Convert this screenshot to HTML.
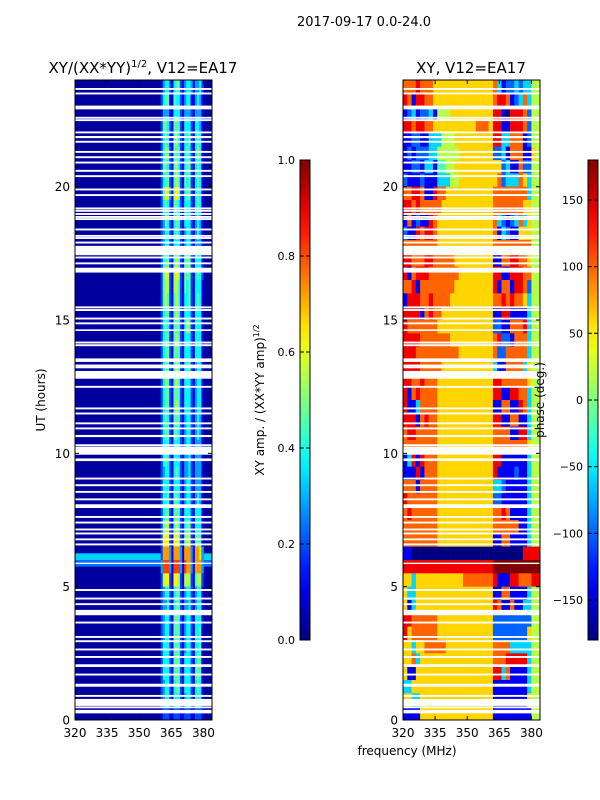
<!DOCTYPE html>
<html><head><meta charset="utf-8"><style>
html,body{margin:0;padding:0;background:#fff;}
svg{display:block;font-family:"DejaVu Sans","Liberation Sans",sans-serif;}
</style></head><body>
<svg id="fig" width="600" height="800" viewBox="0 0 600 800" xmlns="http://www.w3.org/2000/svg">
<text x="364" y="26" font-size="13" text-anchor="middle">2017-09-17 0.0-24.0</text>
<text x="143" y="73" font-size="15" text-anchor="middle">XY/(XX*YY)<tspan font-size="10" dy="-6">1/2</tspan><tspan dy="6">, V12=EA17</tspan></text>
<text x="471" y="73" font-size="15" text-anchor="middle">XY, V12=EA17</text>
<g id="ampHeat"></g>
<g id="phaseHeat"></g>
<g id="axes"></g>
<text x="45" y="400" font-size="12" text-anchor="middle" transform="rotate(-90 45 400)">UT (hours)</text>
<text x="407" y="755" font-size="12" text-anchor="middle">frequency (MHz)</text>
<text x="264" y="400" font-size="12" text-anchor="middle" transform="rotate(-90 264 400)">XY amp. / (XX*YY amp)<tspan font-size="8" dy="-5">1/2</tspan></text>
<text x="544" y="400" font-size="12" text-anchor="middle" transform="rotate(-90 544 400)">phase (deg.)</text>
<g id="cbars"></g>
</svg>
<script>
// ---- data ----
const hourTicks = [0, 5, 10, 15, 20];
const freqTicks = [320, 335, 350, 365, 380];
const ampTicks = [0.0, 0.2, 0.4, 0.6, 0.8, 1.0];
const phaseTicks = [-150, -100, -50, 0, 50, 100, 150];
// amplitude of band 360-380 MHz, 1 MHz channels, rows of 0.5 h, top row = 23.5-24 h
const ampBand = [
"1 3442 1 4552 1 3443 1 3342","2 4551 1 5442 1 3441 1 3431","1 3331 1 4442 1 3332 1 3331","2 5542 1 5552 1 4442 1 4431",
"2 4541 1 5642 1 4452 1 4541","2 4652 1 5552 1 4542 1 4641","2 5542 1 5642 1 4552 1 4541","2 4552 1 5652 1 5452 1 4541",
"2 5763 1 6762 1 4552 1 4541","2 4542 1 5542 1 4442 1 4541","2 3542 1 4552 1 4442 1 3431","2 3442 1 4542 1 3442 1 3431",
"2 3442 1 4442 1 3442 1 3331","2 4552 1 5652 1 5552 1 4441","2 5762 1 6762 1 5552 1 4542","2 5662 1 6652 1 5452 1 4441",
"2 5652 1 5652 1 4452 1 4541","2 4552 1 5652 1 4442 1 4441","2 4542 1 5552 1 4652 1 4441","2 4552 1 5652 1 4442 1 4441",
"2 4552 1 5552 1 4442 1 4441","2 4552 1 5652 1 4452 1 3441","2 4652 1 5652 1 4442 1 3441","2 4552 1 5552 1 4442 1 3441",
"2 4552 1 5652 1 4442 1 3441","2 4542 1 5552 1 3442 1 3431","2 4552 1 5542 1 3442 1 3431","2 4442 1 4442 1 3442 1 3331",
"2 4542 1 4442 1 3342 1 3331","2 3442 1 4542 1 3342 1 3331","2 4442 1 4442 1 3442 1 3331","2 4452 1 5542 1 3442 1 3431",
"2 4552 1 5552 1 4442 1 4441","2 5662 1 5652 1 4552 1 4441","2 7772 1 7762 1 5662 1 5551","2 8883 1 8883 1 8883 1 8873",
"3 9993 1 9993 1 9883 1 8883","2 6772 1 7762 1 6662 1 5662","2 3442 1 4552 1 3442 1 3441","2 3342 1 4552 1 3342 1 3441",
"2 3442 1 5552 1 3442 1 4441","2 3442 1 5552 1 3442 1 4451","2 4442 1 5552 1 3442 1 4451","2 4442 1 5552 1 4442 1 4551",
"2 4442 1 5552 1 4442 1 5551","2 3442 1 4552 1 4442 1 4541","2 3442 1 4442 1 3442 1 4441","1 2221 1 2221 1 2221 1 2221"];
// background amplitude (320-384 MHz outside band), 0.25 h rows, one group per hour, top = 23-24 h
const ampBg = "0000 0000 0000 0000 0000 0000 0000 0000 0000 0000 0000 0000 0000 0000 0000 0000 0000 0003 2000 0000 0000 0000 0000 0000";
// phase, 2 MHz channels 320-384, 0.5 h rows, top = 23.5-24 h; digit d -> -180 + 40 d deg
const phaseRows = [
"77787776 6666666666666 731223233 55","87188776 6666666666666 788712373 55","12312231 5556666666666 881088872 55","88788776 6666666667776 881188872 55",
"11221133 3555666666666 883377712 55","12122233 5555566666666 223177711 65","11221331 4455666666666 662311722 55","21112111 3335566666666 672333763 55",
"77887118 7766666666666 777777773 55","88787777 7666666666666 777777766 55","17121187 6666666666666 732123736 55","21187887 6666666666666 713211666 55",
"77777777 6666666666666 777777777 55","88777887 7777666666666 117788776 55","81788877 7777766666666 881188877 55","77817777 7777666666666 817718872 55",
"18887787 7776666666666 778787763 55","88881787 7666666666666 118811113 55","87777777 6666666666666 221177783 55","88887777 7776666666666 782217773 55",
"88877777 7777766666666 722777773 55","88887777 7666666666666 311777736 55","88778777 6666666666666 887777776 55","81787777 6666666666666 881188773 55",
"81137777 6666666666666 117711873 55","88817877 6666666666666 881177113 55","78877777 6666666666666 777711883 55","77777777 6666666666666 777777776 55",
"13818777 6666666666666 881111113 55","11181777 6666666666666 811112113 55","77717777 6666666666666 332111113 55","87777777 6666666666666 221111113 55",
"78777777 6666666666666 778711113 55","77777777 6666666666666 777777113 55","77777777 6666666666666 117711113 55","11000000 0000000000000 000000088 88",
"88888888 8888888888888 999999999 99","66366666 6666667777777 811188777 88","63366666 6666666666666 117711113 55","61366666 6666666666666 871171133 55",
"88777777 6666666666666 222222222 55","86777777 6666666666666 222222226 55","66366777 7766666666666 777733333 55","66736666 6666666666666 777888883 55",
"61166666 6666666666666 883711113 55","33666666 6666666666666 111111113 55","66336666 6666666666666 111111116 55","11116666 6666666666666 111111111 55"];
// flagged (blank) time intervals in hours
const flagStart = [23.64,23.47,22.91,22.56,22.47,22.01,21.83,21.66,21.28,21.08,20.88,20.57,20.37,19.87,19.66,19.16,19.07,18.95,18.84,18.76,18.37,18.13,18.05,17.88,17.44,17.32,17.10,16.79,15.45,15.35,15.03,14.85,14.60,14.13,14.03,13.44,13.27,13.20,12.81,12.47,11.66,11.47,11.10,10.91,10.62,10.28,9.96,9.72,9.03,8.78,8.53,8.25,7.96,7.59,7.38,7.12,6.97,6.75,6.56,5.86,4.85,4.53,4.32,3.94,3.63,3.09,2.93,2.62,2.34,2.00,1.68,1.31,1.26,0.88,0.54,0.45,0.26];
const flagEnd   = [23.70,23.53,23.04,22.62,22.53,22.07,21.90,21.72,21.34,21.14,20.94,20.63,20.43,19.93,19.72,19.22,19.13,19.01,18.90,18.82,18.43,18.19,18.11,17.94,17.78,17.38,17.16,16.96,15.51,15.41,15.09,14.91,14.65,14.19,14.09,13.56,13.33,13.26,13.09,12.53,11.72,11.53,11.16,10.97,10.69,10.34,10.25,9.81,9.09,8.84,8.59,8.31,8.09,7.65,7.44,7.18,7.03,6.81,6.62,5.90,4.91,4.59,4.38,4.13,3.69,3.15,2.99,2.68,2.40,2.09,1.74,1.36,1.31,0.94,0.79,0.51,0.38];

// ---- layout ----
const NS = "http://www.w3.org/2000/svg";
const TOP = 80, BOT = 720, F0 = 320, F1 = 384, H1 = 24;
const panels = [{x0: 75, x1: 212}, {x0: 403, x1: 540}];
function yOf(h) { return BOT - (h / H1) * (BOT - TOP); }
function xOf(p, f) { return p.x0 + (f - F0) / (F1 - F0) * (p.x1 - p.x0); }
function clamp(v) { return Math.max(0, Math.min(1, v)); }
function jet(t) {
  t = clamp(t);
  const r = clamp(1.5 - Math.abs(4 * t - 3)), g = clamp(1.5 - Math.abs(4 * t - 2)), b = clamp(1.5 - Math.abs(4 * t - 1));
  return "rgb(" + Math.round(r * 255) + "," + Math.round(g * 255) + "," + Math.round(b * 255) + ")";
}
function mk(tag, attrs, parent) {
  const e = document.createElementNS(NS, tag);
  for (const k in attrs) e.setAttribute(k, attrs[k]);
  parent.appendChild(e);
  return e;
}
function cell(parent, p, f0, f1, h0, h1, color, name) {
  const r = mk("rect", {x: xOf(p, f0), y: yOf(h1), width: xOf(p, f1) - xOf(p, f0) + 0.3, height: yOf(h0) - yOf(h1) + 0.3, fill: color}, parent);
  
  
}

// amplitude heatmap
const ampG = document.getElementById("ampHeat");
const bgGroups = ampBg.split(" ");
bgGroups.forEach(function (grp, gi) {
  for (let q = 0; q < grp.length; q++) {
    const hTop = H1 - gi - q * 0.25, hBot = hTop - 0.25;
    const v = 0.03 + parseInt(grp[q]) * 0.1;
    cell(ampG, panels[0], F0, F1, hBot, hTop, jet(v), "amp-background-cell");
  }
});
ampBand.forEach(function (row, i) {
  const s = row.replace(/ /g, "");
  const hTop = H1 - i * 0.5, hBot = hTop - 0.5;
  for (let c = 0; c < s.length; c++) {
    const v = parseInt(s[c]) * 0.088 + 0.02;
    cell(ampG, panels[0], 360 + c, 361 + c, hBot, hTop, jet(v), "amp-cell");
  }
});
// phase heatmap
const phG = document.getElementById("phaseHeat");
phaseRows.forEach(function (row, i) {
  const s = row.replace(/ /g, "");
  const hTop = H1 - i * 0.5, hBot = hTop - 0.5;
  for (let c = 0; c < s.length; c++) {
    const deg = -180 + parseInt(s[c]) * 40;
    cell(phG, panels[1], F0 + 2 * c, F0 + 2 * c + 2, hBot, hTop, jet((deg + 180) / 360), "phase-cell");
  }
});
// flags
[ampG, phG].forEach(function (g, k) {
  flagStart.forEach(function (h0, j) {
    cell(g, panels[k], F0, F1, h0, flagEnd[j], "#ffffff", "flagged-row");
  });
});

// axes
const ax = document.getElementById("axes");
panels.forEach(function (p, k) {
  const fr = mk("rect", {x: p.x0, y: TOP, width: p.x1 - p.x0, height: BOT - TOP, fill: "none", stroke: "#000", "stroke-width": 1}, ax);
  
  
  hourTicks.forEach(function (h) {
    const y = yOf(h);
    mk("line", {x1: p.x0, x2: p.x0 + 4, y1: y, y2: y, stroke: "#000"}, ax);
    mk("line", {x1: p.x1, x2: p.x1 - 4, y1: y, y2: y, stroke: "#000"}, ax);
    const t = mk("text", {x: p.x0 - 5, y: y + 4.5, "font-size": 12, "text-anchor": "end"}, ax);
    t.textContent = h;
    
    
  });
  freqTicks.forEach(function (f) {
    const x = xOf(p, f);
    mk("line", {x1: x, x2: x, y1: BOT, y2: BOT - 4, stroke: "#000"}, ax);
    mk("line", {x1: x, x2: x, y1: TOP, y2: TOP + 4, stroke: "#000"}, ax);
    const t = mk("text", {x: x, y: BOT + 17, "font-size": 12, "text-anchor": "middle"}, ax);
    t.textContent = f;
    
    
  });
});

// colorbars
const cb = document.getElementById("cbars");
const defs = mk("defs", {}, cb);
const grad = mk("linearGradient", {id: "jetg", x1: 0, y1: 1, x2: 0, y2: 0}, defs);
for (let i = 0; i <= 20; i++) mk("stop", {offset: i / 20, "stop-color": jet(i / 20)}, grad);
const CB_T = 160, CB_B = 640;
function colorbar(x0, vmin, vmax, ticks, fmt, name) {
  const r = mk("rect", {x: x0, y: CB_T, width: 10, height: CB_B - CB_T, fill: "url(#jetg)", stroke: "#000", "stroke-width": 1}, cb);
  
  
  ticks.forEach(function (v) {
    const y = CB_B - (v - vmin) / (vmax - vmin) * (CB_B - CB_T);
    mk("line", {x1: x0, x2: x0 + 4, y1: y, y2: y, stroke: "#000"}, cb);
    mk("line", {x1: x0 + 10, x2: x0 + 6, y1: y, y2: y, stroke: "#000"}, cb);
    const t = mk("text", {x: x0 - 5, y: y + 4, "font-size": 11, "text-anchor": "end"}, cb);
    t.textContent = fmt(v);
    
    
  });
}
colorbar(300, 0, 1, ampTicks, function (v) { return v.toFixed(1); }, "amp-colorbar");
colorbar(588, -180, 180, phaseTicks, function (v) { return v < 0 ? "\u2212" + (-v) : String(v); }, "phase-colorbar");
</script>
</body></html>
